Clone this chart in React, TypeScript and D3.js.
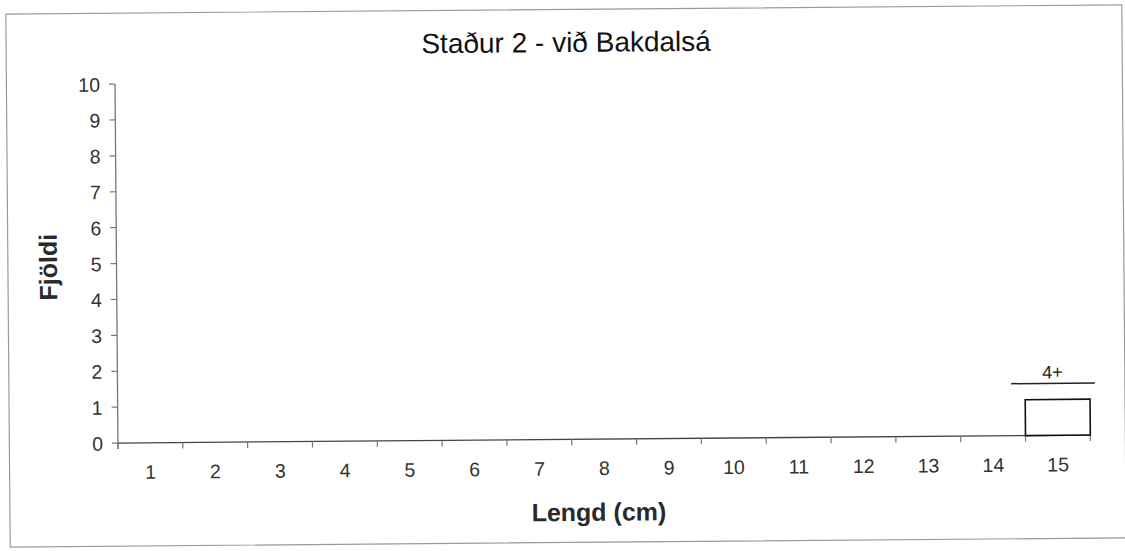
import React from "react";
import * as d3 from "d3";

const categories = ["1","2","3","4","5","6","7","8","9","10","11","12","13","14","15"];
const counts = [0,0,0,0,0,0,0,0,0,0,0,0,0,0,1];
const yTicks = [0,1,2,3,4,5,6,7,8,9,10];
const annotationCategory = "15";
const annotationLabel = "4+";
const annotationLevel = 1.45;
const title = "Staður 2 - við Bakdalsá";
const xTitle = "Lengd (cm)";
const yTitle = "Fjöldi";

const W = 1125, H = 551;
const FONT = "'Liberation Sans', Arial, Helvetica, sans-serif";

export default function App() {
  const x = d3.scaleBand<string>().domain(categories).range([116.6, 1089]).padding(0);
  const y = d3.scaleLinear().domain([0, 10]).range([439.4, 80.4]);
  const bw = x.bandwidth();
  const x0 = x.range()[0];
  const boundaries = d3.range(categories.length + 1).map((i) => x0 + i * bw);
  const ax = x(annotationCategory)!;

  return (
    <svg width={W} height={H} style={{ position: "absolute", left: 0, top: 0, background: "#fff" }}>
      <rect x={0} y={0} width={W} height={H} fill="#fff" />
      <g transform={`rotate(-0.47, ${W / 2}, ${H / 2})`} fontFamily={FONT}>
        <rect x={8} y={9.5} width={1116} height={533} fill="none" stroke="#9a9a9a" strokeWidth={1.2} />
        <text x={568} y={52} textAnchor="middle" fontSize={28} fill="#111">{title}</text>
        {/* y axis */}
        <line x1={x0} x2={x0} y1={y(10)} y2={y(0) + 6} stroke="#777" strokeWidth={1.3} />
        {yTicks.map((t) => (
          <g key={t}>
            <line x1={x0 - 6} x2={x0} y1={y(t)} y2={y(t)} stroke="#777" strokeWidth={1.2} />
            <text x={x0 - 15} y={y(t)} dy="0.38em" textAnchor="end" fontSize={19.5} fill="#333">{t}</text>
          </g>
        ))}
        {/* x axis */}
        <line x1={x0} x2={x.range()[1]} y1={y(0)} y2={y(0)} stroke="#444" strokeWidth={1.3} />
        {boundaries.map((b, i) => (
          <line key={i} x1={b} x2={b} y1={y(0)} y2={y(0) + 6} stroke="#777" strokeWidth={1.2} />
        ))}
        {categories.map((c) => (
          <text key={c} x={x(c)! + bw / 2} y={y(0) + 36} textAnchor="middle" fontSize={19.5} fill="#333">{c}</text>
        ))}
        {/* bars */}
        {categories.map((c, i) =>
          counts[i] > 0 ? (
            <rect key={c} x={x(c)!} y={y(counts[i])} width={bw} height={y(0) - y(counts[i])}
              fill="#fff" stroke="#111" strokeWidth={1.6} />
          ) : null
        )}
        {/* annotation */}
        <line x1={ax - 14} x2={ax + bw + 5} y1={y(annotationLevel)} y2={y(annotationLevel)} stroke="#222" strokeWidth={1.5} />
        <text x={ax + bw / 2 - 5} y={y(annotationLevel) - 5} textAnchor="middle" fontSize={18} fill="#222">{annotationLabel}</text>
        {/* axis titles */}
        <text x={597} y={521} textAnchor="middle" fontSize={25} fontWeight="bold" fill="#2a2a2a">{xTitle}</text>
        <text transform={`translate(57, 263) rotate(-90)`} textAnchor="middle" fontSize={25} fontWeight="bold" fill="#2a2a2a">{yTitle}</text>
      </g>
    </svg>
  );
}
